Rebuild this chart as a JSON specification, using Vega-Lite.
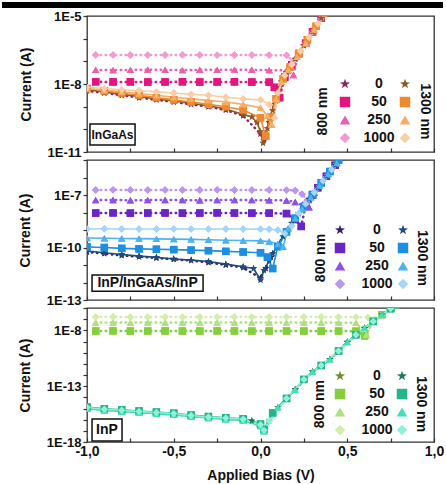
{
"$schema":"https://vega.github.io/schema/vega-lite/v6.json",
"padding":{"left":0,"top":0,"right":2,"bottom":2},
"background":"white",
"spacing":-7,
"config":{
 "view":{"stroke":"#333","strokeWidth":1.3},
 "axis":{"domain":false,"grid":false,"labelFont":"Liberation Sans","labelFontWeight":"bold","labelFontSize":13,"labelColor":"#111","titleFont":"Liberation Sans","titleFontWeight":"bold","titleFontSize":14,"titleColor":"#111","tickColor":"#333","tickWidth":1.2,"labelFlush":false,"labelOverlap":false},
 "legend":{"labelFont":"Liberation Sans","labelFontWeight":"bold","labelFontSize":14,"labelColor":"#111","symbolSize":110,"padding":0,"rowPadding":4,"symbolStrokeWidth":0},
 "text":{"font":"Liberation Sans","fontWeight":"bold","color":"#111"}
},
"datasets":{"iv":[
{"p":1,"w":1300,"l":"0","v":-1,"c":5.6e-9},{"p":1,"w":1300,"l":"0","v":-0.9,"c":4.5e-9},{"p":1,"w":1300,"l":"0","v":-0.8,"c":3.5e-9},{"p":1,"w":1300,"l":"0","v":-0.7,"c":2.8e-9},{"p":1,"w":1300,"l":"0","v":-0.6,"c":2.2e-9},{"p":1,"w":1300,"l":"0","v":-0.5,"c":1.8e-9},{"p":1,"w":1300,"l":"0","v":-0.4,"c":1.4e-9},{"p":1,"w":1300,"l":"0","v":-0.3,"c":1.1e-9},{"p":1,"w":1300,"l":"0","v":-0.2,"c":7.9e-10},{"p":1,"w":1300,"l":"0","v":-0.1,"c":4.5e-10},{"p":1,"w":1300,"l":"0","v":-0.05,"c":3.5e-10},{"p":1,"w":1300,"l":"0","v":-0.02,"c":2e-10},{"p":1,"w":1300,"l":"0","v":0,"c":7.9e-11},{"p":1,"w":1300,"l":"0","v":0.015,"c":2.5e-11},{"p":1,"w":1300,"l":"0","v":0.04,"c":1.1e-10},{"p":1,"w":1300,"l":"0","v":0.07,"c":6.8e-10},{"p":1,"w":1300,"l":"0","v":0.1,"c":4.2e-9},{"p":1,"w":1300,"l":"0","v":0.12,"c":1.26e-8},{"p":1,"w":1300,"l":"0","v":0.15,"c":3.2e-8},{"p":1,"w":1300,"l":"0","v":0.2,"c":1.26e-7},{"p":1,"w":1300,"l":"0","v":0.25,"c":5e-7},{"p":1,"w":1300,"l":"0","v":0.3,"c":2e-6},{"p":1,"w":1300,"l":"0","v":0.35,"c":7.9e-6},{"p":1,"w":1300,"l":"0","v":0.37,"c":1.38e-5},
{"p":1,"w":1300,"l":"50","v":-1,"c":6.3e-9},{"p":1,"w":1300,"l":"50","v":-0.9,"c":5e-9},{"p":1,"w":1300,"l":"50","v":-0.8,"c":4e-9},{"p":1,"w":1300,"l":"50","v":-0.7,"c":3.2e-9},{"p":1,"w":1300,"l":"50","v":-0.6,"c":2.5e-9},{"p":1,"w":1300,"l":"50","v":-0.5,"c":2e-9},{"p":1,"w":1300,"l":"50","v":-0.4,"c":1.6e-9},{"p":1,"w":1300,"l":"50","v":-0.3,"c":1.26e-9},{"p":1,"w":1300,"l":"50","v":-0.2,"c":1e-9},{"p":1,"w":1300,"l":"50","v":-0.1,"c":7.1e-10},{"p":1,"w":1300,"l":"50","v":0,"c":3.2e-10},{"p":1,"w":1300,"l":"50","v":0.03,"c":5e-11},{"p":1,"w":1300,"l":"50","v":0.06,"c":3.5e-10},{"p":1,"w":1300,"l":"50","v":0.09,"c":2.2e-9},{"p":1,"w":1300,"l":"50","v":0.13,"c":1.7e-8},{"p":1,"w":1300,"l":"50","v":0.17,"c":5.6e-8},{"p":1,"w":1300,"l":"50","v":0.22,"c":2.2e-7},{"p":1,"w":1300,"l":"50","v":0.27,"c":8.9e-7},{"p":1,"w":1300,"l":"50","v":0.32,"c":3.5e-6},{"p":1,"w":1300,"l":"50","v":0.37,"c":1.38e-5},
{"p":1,"w":1300,"l":"250","v":-1,"c":6.3e-9},{"p":1,"w":1300,"l":"250","v":-0.9,"c":5.4e-9},{"p":1,"w":1300,"l":"250","v":-0.8,"c":4.5e-9},{"p":1,"w":1300,"l":"250","v":-0.7,"c":3.8e-9},{"p":1,"w":1300,"l":"250","v":-0.6,"c":3.2e-9},{"p":1,"w":1300,"l":"250","v":-0.5,"c":2.6e-9},{"p":1,"w":1300,"l":"250","v":-0.4,"c":2.2e-9},{"p":1,"w":1300,"l":"250","v":-0.3,"c":1.9e-9},{"p":1,"w":1300,"l":"250","v":-0.2,"c":1.6e-9},{"p":1,"w":1300,"l":"250","v":-0.1,"c":1.26e-9},{"p":1,"w":1300,"l":"250","v":0,"c":8.9e-10},{"p":1,"w":1300,"l":"250","v":0.04,"c":4e-10},{"p":1,"w":1300,"l":"250","v":0.065,"c":1.6e-10},{"p":1,"w":1300,"l":"250","v":0.09,"c":2.2e-9},{"p":1,"w":1300,"l":"250","v":0.12,"c":1.26e-8},{"p":1,"w":1300,"l":"250","v":0.16,"c":4.2e-8},{"p":1,"w":1300,"l":"250","v":0.21,"c":1.6e-7},{"p":1,"w":1300,"l":"250","v":0.26,"c":6.3e-7},{"p":1,"w":1300,"l":"250","v":0.31,"c":2.5e-6},{"p":1,"w":1300,"l":"250","v":0.37,"c":1.38e-5},
{"p":1,"w":1300,"l":"1000","v":-1,"c":7.1e-9},{"p":1,"w":1300,"l":"1000","v":-0.9,"c":6.3e-9},{"p":1,"w":1300,"l":"1000","v":-0.8,"c":5.6e-9},{"p":1,"w":1300,"l":"1000","v":-0.7,"c":5e-9},{"p":1,"w":1300,"l":"1000","v":-0.6,"c":4.5e-9},{"p":1,"w":1300,"l":"1000","v":-0.5,"c":4e-9},{"p":1,"w":1300,"l":"1000","v":-0.4,"c":3.5e-9},{"p":1,"w":1300,"l":"1000","v":-0.3,"c":3.2e-9},{"p":1,"w":1300,"l":"1000","v":-0.2,"c":2.6e-9},{"p":1,"w":1300,"l":"1000","v":-0.1,"c":2.2e-9},{"p":1,"w":1300,"l":"1000","v":0,"c":2e-9},{"p":1,"w":1300,"l":"1000","v":0.05,"c":1.26e-9},{"p":1,"w":1300,"l":"1000","v":0.08,"c":3.2e-10},{"p":1,"w":1300,"l":"1000","v":0.1,"c":4e-9},{"p":1,"w":1300,"l":"1000","v":0.14,"c":2.4e-8},{"p":1,"w":1300,"l":"1000","v":0.18,"c":7.1e-8},{"p":1,"w":1300,"l":"1000","v":0.23,"c":2.8e-7},{"p":1,"w":1300,"l":"1000","v":0.28,"c":1.12e-6},{"p":1,"w":1300,"l":"1000","v":0.33,"c":4.5e-6},{"p":1,"w":1300,"l":"1000","v":0.37,"c":1.38e-5},
{"p":1,"w":800,"l":"0","v":-1,"c":5e-9},{"p":1,"w":800,"l":"0","v":-0.9,"c":4e-9},{"p":1,"w":800,"l":"0","v":-0.8,"c":3.2e-9},{"p":1,"w":800,"l":"0","v":-0.7,"c":2.5e-9},{"p":1,"w":800,"l":"0","v":-0.6,"c":2e-9},{"p":1,"w":800,"l":"0","v":-0.5,"c":1.6e-9},{"p":1,"w":800,"l":"0","v":-0.4,"c":1.26e-9},{"p":1,"w":800,"l":"0","v":-0.3,"c":1e-9},{"p":1,"w":800,"l":"0","v":-0.2,"c":7.1e-10},{"p":1,"w":800,"l":"0","v":-0.1,"c":4e-10},{"p":1,"w":800,"l":"0","v":0,"c":6.3e-11},{"p":1,"w":800,"l":"0","v":0.02,"c":3.2e-11},{"p":1,"w":800,"l":"0","v":0.05,"c":2e-10},{"p":1,"w":800,"l":"0","v":0.08,"c":1.26e-9},{"p":1,"w":800,"l":"0","v":0.11,"c":7.1e-9},{"p":1,"w":800,"l":"0","v":0.15,"c":3.2e-8},{"p":1,"w":800,"l":"0","v":0.2,"c":1.26e-7},{"p":1,"w":800,"l":"0","v":0.25,"c":5e-7},{"p":1,"w":800,"l":"0","v":0.3,"c":2e-6},{"p":1,"w":800,"l":"0","v":0.35,"c":7.9e-6},{"p":1,"w":800,"l":"0","v":0.37,"c":1.38e-5},
{"p":1,"w":800,"l":"50","v":-0.95,"c":1.25e-8},{"p":1,"w":800,"l":"50","v":-0.85,"c":1.23e-8},{"p":1,"w":800,"l":"50","v":-0.75,"c":1.24e-8},{"p":1,"w":800,"l":"50","v":-0.65,"c":1.22e-8},{"p":1,"w":800,"l":"50","v":-0.55,"c":1.23e-8},{"p":1,"w":800,"l":"50","v":-0.45,"c":1.25e-8},{"p":1,"w":800,"l":"50","v":-0.35,"c":1.22e-8},{"p":1,"w":800,"l":"50","v":-0.25,"c":1.23e-8},{"p":1,"w":800,"l":"50","v":-0.15,"c":1.24e-8},{"p":1,"w":800,"l":"50","v":-0.05,"c":1.22e-8},{"p":1,"w":800,"l":"50","v":0.05,"c":1.2e-8},{"p":1,"w":800,"l":"50","v":0.08,"c":7.1e-9},{"p":1,"w":800,"l":"50","v":0.11,"c":2.5e-9},{"p":1,"w":800,"l":"50","v":0.14,"c":2e-8},{"p":1,"w":800,"l":"50","v":0.18,"c":7.1e-8},{"p":1,"w":800,"l":"50","v":0.22,"c":2.2e-7},{"p":1,"w":800,"l":"50","v":0.26,"c":6.3e-7},{"p":1,"w":800,"l":"50","v":0.3,"c":2e-6},{"p":1,"w":800,"l":"50","v":0.35,"c":7.9e-6},{"p":1,"w":800,"l":"50","v":0.37,"c":1.38e-5},
{"p":1,"w":800,"l":"250","v":-0.95,"c":4.2e-8},{"p":1,"w":800,"l":"250","v":-0.85,"c":4.1e-8},{"p":1,"w":800,"l":"250","v":-0.75,"c":4.2e-8},{"p":1,"w":800,"l":"250","v":-0.65,"c":4.3e-8},{"p":1,"w":800,"l":"250","v":-0.55,"c":4.2e-8},{"p":1,"w":800,"l":"250","v":-0.45,"c":4.1e-8},{"p":1,"w":800,"l":"250","v":-0.35,"c":4.2e-8},{"p":1,"w":800,"l":"250","v":-0.25,"c":4.2e-8},{"p":1,"w":800,"l":"250","v":-0.15,"c":4.3e-8},{"p":1,"w":800,"l":"250","v":-0.05,"c":4.2e-8},{"p":1,"w":800,"l":"250","v":0.05,"c":4.1e-8},{"p":1,"w":800,"l":"250","v":0.15,"c":4e-8},{"p":1,"w":800,"l":"250","v":0.19,"c":2.5e-8},{"p":1,"w":800,"l":"250","v":0.22,"c":2.2e-7},{"p":1,"w":800,"l":"250","v":0.26,"c":6.3e-7},{"p":1,"w":800,"l":"250","v":0.3,"c":2e-6},{"p":1,"w":800,"l":"250","v":0.35,"c":7.9e-6},{"p":1,"w":800,"l":"250","v":0.37,"c":1.38e-5},
{"p":1,"w":800,"l":"1000","v":-0.95,"c":1.9e-7},{"p":1,"w":800,"l":"1000","v":-0.85,"c":1.92e-7},{"p":1,"w":800,"l":"1000","v":-0.75,"c":1.9e-7},{"p":1,"w":800,"l":"1000","v":-0.65,"c":1.88e-7},{"p":1,"w":800,"l":"1000","v":-0.55,"c":1.9e-7},{"p":1,"w":800,"l":"1000","v":-0.45,"c":1.92e-7},{"p":1,"w":800,"l":"1000","v":-0.35,"c":1.9e-7},{"p":1,"w":800,"l":"1000","v":-0.25,"c":1.88e-7},{"p":1,"w":800,"l":"1000","v":-0.15,"c":1.9e-7},{"p":1,"w":800,"l":"1000","v":-0.05,"c":1.9e-7},{"p":1,"w":800,"l":"1000","v":0.05,"c":1.88e-7},{"p":1,"w":800,"l":"1000","v":0.15,"c":1.85e-7},{"p":1,"w":800,"l":"1000","v":0.19,"c":1e-7},{"p":1,"w":800,"l":"1000","v":0.23,"c":2.8e-7},{"p":1,"w":800,"l":"1000","v":0.26,"c":6.3e-7},{"p":1,"w":800,"l":"1000","v":0.3,"c":2e-6},{"p":1,"w":800,"l":"1000","v":0.35,"c":7.9e-6},{"p":1,"w":800,"l":"1000","v":0.37,"c":1.38e-5},
{"p":2,"w":1300,"l":"0","v":-1,"c":6.3e-11},{"p":2,"w":1300,"l":"0","v":-0.9,"c":5e-11},{"p":2,"w":1300,"l":"0","v":-0.8,"c":4e-11},{"p":2,"w":1300,"l":"0","v":-0.7,"c":3.2e-11},{"p":2,"w":1300,"l":"0","v":-0.6,"c":2.8e-11},{"p":2,"w":1300,"l":"0","v":-0.5,"c":2.2e-11},{"p":2,"w":1300,"l":"0","v":-0.4,"c":1.9e-11},{"p":2,"w":1300,"l":"0","v":-0.3,"c":1.6e-11},{"p":2,"w":1300,"l":"0","v":-0.2,"c":1.12e-11},{"p":2,"w":1300,"l":"0","v":-0.1,"c":7.9e-12},{"p":2,"w":1300,"l":"0","v":-0.04,"c":6.3e-12},{"p":2,"w":1300,"l":"0","v":0,"c":1.4e-12},{"p":2,"w":1300,"l":"0","v":0.02,"c":5e-12},{"p":2,"w":1300,"l":"0","v":0.05,"c":1.8e-11},{"p":2,"w":1300,"l":"0","v":0.07,"c":4.5e-11},{"p":2,"w":1300,"l":"0","v":0.1,"c":1.4e-10},{"p":2,"w":1300,"l":"0","v":0.13,"c":4.2e-10},{"p":2,"w":1300,"l":"0","v":0.18,"c":2.5e-9},{"p":2,"w":1300,"l":"0","v":0.22,"c":8.7e-9},{"p":2,"w":1300,"l":"0","v":0.28,"c":5.8e-8},{"p":2,"w":1300,"l":"0","v":0.33,"c":2.6e-7},{"p":2,"w":1300,"l":"0","v":0.38,"c":1.17e-6},{"p":2,"w":1300,"l":"0","v":0.43,"c":5e-6},{"p":2,"w":1300,"l":"0","v":0.47,"c":1.78e-5},
{"p":2,"w":1300,"l":"50","v":-1,"c":1.07e-10},{"p":2,"w":1300,"l":"50","v":-0.9,"c":1e-10},{"p":2,"w":1300,"l":"50","v":-0.8,"c":8.9e-11},{"p":2,"w":1300,"l":"50","v":-0.7,"c":8.3e-11},{"p":2,"w":1300,"l":"50","v":-0.6,"c":7.9e-11},{"p":2,"w":1300,"l":"50","v":-0.5,"c":7.6e-11},{"p":2,"w":1300,"l":"50","v":-0.4,"c":7.1e-11},{"p":2,"w":1300,"l":"50","v":-0.3,"c":6.6e-11},{"p":2,"w":1300,"l":"50","v":-0.2,"c":6e-11},{"p":2,"w":1300,"l":"50","v":-0.1,"c":5.5e-11},{"p":2,"w":1300,"l":"50","v":0,"c":5e-11},{"p":2,"w":1300,"l":"50","v":0.04,"c":2.8e-11},{"p":2,"w":1300,"l":"50","v":0.07,"c":6.3e-12},{"p":2,"w":1300,"l":"50","v":0.1,"c":1.12e-10},{"p":2,"w":1300,"l":"50","v":0.15,"c":7.9e-10},{"p":2,"w":1300,"l":"50","v":0.2,"c":4.7e-9},{"p":2,"w":1300,"l":"50","v":0.25,"c":2.2e-8},{"p":2,"w":1300,"l":"50","v":0.3,"c":1.07e-7},{"p":2,"w":1300,"l":"50","v":0.35,"c":5e-7},{"p":2,"w":1300,"l":"50","v":0.4,"c":2.2e-6},{"p":2,"w":1300,"l":"50","v":0.45,"c":1e-5},{"p":2,"w":1300,"l":"50","v":0.47,"c":1.78e-5},
{"p":2,"w":1300,"l":"250","v":-1,"c":3.5e-10},{"p":2,"w":1300,"l":"250","v":-0.9,"c":3.4e-10},{"p":2,"w":1300,"l":"250","v":-0.8,"c":3.3e-10},{"p":2,"w":1300,"l":"250","v":-0.7,"c":3.2e-10},{"p":2,"w":1300,"l":"250","v":-0.6,"c":3.1e-10},{"p":2,"w":1300,"l":"250","v":-0.5,"c":3e-10},{"p":2,"w":1300,"l":"250","v":-0.4,"c":2.9e-10},{"p":2,"w":1300,"l":"250","v":-0.3,"c":2.8e-10},{"p":2,"w":1300,"l":"250","v":-0.2,"c":2.6e-10},{"p":2,"w":1300,"l":"250","v":-0.1,"c":2.5e-10},{"p":2,"w":1300,"l":"250","v":0,"c":2.4e-10},{"p":2,"w":1300,"l":"250","v":0.05,"c":2.2e-10},{"p":2,"w":1300,"l":"250","v":0.1,"c":1.6e-10},{"p":2,"w":1300,"l":"250","v":0.13,"c":1.1e-10},{"p":2,"w":1300,"l":"250","v":0.16,"c":1.26e-9},{"p":2,"w":1300,"l":"250","v":0.2,"c":4.7e-9},{"p":2,"w":1300,"l":"250","v":0.24,"c":1.6e-8},{"p":2,"w":1300,"l":"250","v":0.29,"c":7.4e-8},{"p":2,"w":1300,"l":"250","v":0.34,"c":3.5e-7},{"p":2,"w":1300,"l":"250","v":0.39,"c":1.6e-6},{"p":2,"w":1300,"l":"250","v":0.44,"c":6.8e-6},{"p":2,"w":1300,"l":"250","v":0.47,"c":1.78e-5},
{"p":2,"w":1300,"l":"1000","v":-1,"c":1.15e-9},{"p":2,"w":1300,"l":"1000","v":-0.9,"c":1.17e-9},{"p":2,"w":1300,"l":"1000","v":-0.8,"c":1.15e-9},{"p":2,"w":1300,"l":"1000","v":-0.7,"c":1.14e-9},{"p":2,"w":1300,"l":"1000","v":-0.6,"c":1.15e-9},{"p":2,"w":1300,"l":"1000","v":-0.5,"c":1.16e-9},{"p":2,"w":1300,"l":"1000","v":-0.4,"c":1.14e-9},{"p":2,"w":1300,"l":"1000","v":-0.3,"c":1.15e-9},{"p":2,"w":1300,"l":"1000","v":-0.2,"c":1.13e-9},{"p":2,"w":1300,"l":"1000","v":-0.1,"c":1.14e-9},{"p":2,"w":1300,"l":"1000","v":0,"c":1.12e-9},{"p":2,"w":1300,"l":"1000","v":0.05,"c":1.1e-9},{"p":2,"w":1300,"l":"1000","v":0.1,"c":1e-9},{"p":2,"w":1300,"l":"1000","v":0.14,"c":6.3e-10},{"p":2,"w":1300,"l":"1000","v":0.18,"c":1.7e-9},{"p":2,"w":1300,"l":"1000","v":0.22,"c":8.7e-9},{"p":2,"w":1300,"l":"1000","v":0.26,"c":3.1e-8},{"p":2,"w":1300,"l":"1000","v":0.31,"c":1.4e-7},{"p":2,"w":1300,"l":"1000","v":0.36,"c":6.3e-7},{"p":2,"w":1300,"l":"1000","v":0.41,"c":2.8e-6},{"p":2,"w":1300,"l":"1000","v":0.47,"c":1.78e-5},
{"p":2,"w":800,"l":"0","v":-1,"c":5.6e-11},{"p":2,"w":800,"l":"0","v":-0.9,"c":4.5e-11},{"p":2,"w":800,"l":"0","v":-0.8,"c":3.5e-11},{"p":2,"w":800,"l":"0","v":-0.7,"c":3e-11},{"p":2,"w":800,"l":"0","v":-0.6,"c":2.5e-11},{"p":2,"w":800,"l":"0","v":-0.5,"c":2.1e-11},{"p":2,"w":800,"l":"0","v":-0.4,"c":1.8e-11},{"p":2,"w":800,"l":"0","v":-0.3,"c":1.4e-11},{"p":2,"w":800,"l":"0","v":-0.2,"c":1e-11},{"p":2,"w":800,"l":"0","v":-0.1,"c":7.1e-12},{"p":2,"w":800,"l":"0","v":0,"c":1.8e-12},{"p":2,"w":800,"l":"0","v":0.03,"c":6.3e-12},{"p":2,"w":800,"l":"0","v":0.06,"c":2.8e-11},{"p":2,"w":800,"l":"0","v":0.1,"c":1.4e-10},{"p":2,"w":800,"l":"0","v":0.15,"c":8.5e-10},{"p":2,"w":800,"l":"0","v":0.2,"c":4.7e-9},{"p":2,"w":800,"l":"0","v":0.25,"c":2.2e-8},{"p":2,"w":800,"l":"0","v":0.3,"c":1.07e-7},{"p":2,"w":800,"l":"0","v":0.35,"c":5e-7},{"p":2,"w":800,"l":"0","v":0.4,"c":2.2e-6},{"p":2,"w":800,"l":"0","v":0.45,"c":1e-5},{"p":2,"w":800,"l":"0","v":0.47,"c":1.78e-5},
{"p":2,"w":800,"l":"50","v":-0.95,"c":9.3e-9},{"p":2,"w":800,"l":"50","v":-0.85,"c":9.5e-9},{"p":2,"w":800,"l":"50","v":-0.75,"c":9.2e-9},{"p":2,"w":800,"l":"50","v":-0.65,"c":9.3e-9},{"p":2,"w":800,"l":"50","v":-0.55,"c":9.4e-9},{"p":2,"w":800,"l":"50","v":-0.45,"c":9.2e-9},{"p":2,"w":800,"l":"50","v":-0.35,"c":9.3e-9},{"p":2,"w":800,"l":"50","v":-0.25,"c":9.5e-9},{"p":2,"w":800,"l":"50","v":-0.15,"c":9.3e-9},{"p":2,"w":800,"l":"50","v":-0.05,"c":9.2e-9},{"p":2,"w":800,"l":"50","v":0.05,"c":9.2e-9},{"p":2,"w":800,"l":"50","v":0.15,"c":8.7e-9},{"p":2,"w":800,"l":"50","v":0.2,"c":4e-9},{"p":2,"w":800,"l":"50","v":0.235,"c":1.6e-9},{"p":2,"w":800,"l":"50","v":0.26,"c":2.5e-8},{"p":2,"w":800,"l":"50","v":0.3,"c":1e-7},{"p":2,"w":800,"l":"50","v":0.33,"c":2.6e-7},{"p":2,"w":800,"l":"50","v":0.38,"c":1.17e-6},{"p":2,"w":800,"l":"50","v":0.43,"c":5e-6},{"p":2,"w":800,"l":"50","v":0.47,"c":1.78e-5},
{"p":2,"w":800,"l":"250","v":-0.95,"c":5.1e-8},{"p":2,"w":800,"l":"250","v":-0.85,"c":5.2e-8},{"p":2,"w":800,"l":"250","v":-0.75,"c":5e-8},{"p":2,"w":800,"l":"250","v":-0.65,"c":5.1e-8},{"p":2,"w":800,"l":"250","v":-0.55,"c":5.2e-8},{"p":2,"w":800,"l":"250","v":-0.45,"c":5.1e-8},{"p":2,"w":800,"l":"250","v":-0.35,"c":5e-8},{"p":2,"w":800,"l":"250","v":-0.25,"c":5.1e-8},{"p":2,"w":800,"l":"250","v":-0.15,"c":5.2e-8},{"p":2,"w":800,"l":"250","v":-0.05,"c":5.1e-8},{"p":2,"w":800,"l":"250","v":0.05,"c":5e-8},{"p":2,"w":800,"l":"250","v":0.15,"c":4.9e-8},{"p":2,"w":800,"l":"250","v":0.2,"c":4e-8},{"p":2,"w":800,"l":"250","v":0.245,"c":2.5e-8},{"p":2,"w":800,"l":"250","v":0.28,"c":2e-8},{"p":2,"w":800,"l":"250","v":0.31,"c":1.4e-7},{"p":2,"w":800,"l":"250","v":0.35,"c":5e-7},{"p":2,"w":800,"l":"250","v":0.4,"c":2.2e-6},{"p":2,"w":800,"l":"250","v":0.45,"c":1e-5},{"p":2,"w":800,"l":"250","v":0.47,"c":1.78e-5},
{"p":2,"w":800,"l":"1000","v":-0.95,"c":1.95e-7},{"p":2,"w":800,"l":"1000","v":-0.85,"c":1.97e-7},{"p":2,"w":800,"l":"1000","v":-0.75,"c":1.94e-7},{"p":2,"w":800,"l":"1000","v":-0.65,"c":1.95e-7},{"p":2,"w":800,"l":"1000","v":-0.55,"c":1.96e-7},{"p":2,"w":800,"l":"1000","v":-0.45,"c":1.94e-7},{"p":2,"w":800,"l":"1000","v":-0.35,"c":1.95e-7},{"p":2,"w":800,"l":"1000","v":-0.25,"c":1.97e-7},{"p":2,"w":800,"l":"1000","v":-0.15,"c":1.95e-7},{"p":2,"w":800,"l":"1000","v":-0.05,"c":1.94e-7},{"p":2,"w":800,"l":"1000","v":0.05,"c":1.93e-7},{"p":2,"w":800,"l":"1000","v":0.15,"c":1.9e-7},{"p":2,"w":800,"l":"1000","v":0.2,"c":1.8e-7},{"p":2,"w":800,"l":"1000","v":0.24,"c":1.12e-7},{"p":2,"w":800,"l":"1000","v":0.27,"c":5e-8},{"p":2,"w":800,"l":"1000","v":0.3,"c":1.12e-7},{"p":2,"w":800,"l":"1000","v":0.33,"c":2.6e-7},{"p":2,"w":800,"l":"1000","v":0.38,"c":1.17e-6},{"p":2,"w":800,"l":"1000","v":0.43,"c":5e-6},{"p":2,"w":800,"l":"1000","v":0.47,"c":1.78e-5},
{"p":3,"w":1300,"l":"0","v":-1,"c":1.12e-15},{"p":3,"w":1300,"l":"0","v":-0.9,"c":7.9e-16},{"p":3,"w":1300,"l":"0","v":-0.8,"c":6.3e-16},{"p":3,"w":1300,"l":"0","v":-0.7,"c":5e-16},{"p":3,"w":1300,"l":"0","v":-0.6,"c":4e-16},{"p":3,"w":1300,"l":"0","v":-0.5,"c":3.2e-16},{"p":3,"w":1300,"l":"0","v":-0.4,"c":2.2e-16},{"p":3,"w":1300,"l":"0","v":-0.3,"c":1.6e-16},{"p":3,"w":1300,"l":"0","v":-0.2,"c":1.26e-16},{"p":3,"w":1300,"l":"0","v":-0.1,"c":1e-16},{"p":3,"w":1300,"l":"0","v":-0.05,"c":7.9e-17},{"p":3,"w":1300,"l":"0","v":0,"c":3.2e-17},{"p":3,"w":1300,"l":"0","v":0.02,"c":1e-17},{"p":3,"w":1300,"l":"0","v":0.05,"c":7.9e-17},{"p":3,"w":1300,"l":"0","v":0.07,"c":4e-16},{"p":3,"w":1300,"l":"0","v":0.1,"c":1.26e-15},{"p":3,"w":1300,"l":"0","v":0.15,"c":7.9e-15},{"p":3,"w":1300,"l":"0","v":0.2,"c":5e-14},{"p":3,"w":1300,"l":"0","v":0.25,"c":4e-13},{"p":3,"w":1300,"l":"0","v":0.3,"c":2e-12},{"p":3,"w":1300,"l":"0","v":0.35,"c":7.1e-12},{"p":3,"w":1300,"l":"0","v":0.4,"c":2.5e-11},{"p":3,"w":1300,"l":"0","v":0.45,"c":1.4e-10},{"p":3,"w":1300,"l":"0","v":0.5,"c":8.9e-10},{"p":3,"w":1300,"l":"0","v":0.55,"c":4e-9},{"p":3,"w":1300,"l":"0","v":0.6,"c":1.6e-8},{"p":3,"w":1300,"l":"0","v":0.65,"c":6.3e-8},{"p":3,"w":1300,"l":"0","v":0.7,"c":2.5e-7},{"p":3,"w":1300,"l":"0","v":0.75,"c":8.9e-7},{"p":3,"w":1300,"l":"0","v":0.78,"c":2e-6},
{"p":3,"w":1300,"l":"50","v":-1,"c":1.35e-15},{"p":3,"w":1300,"l":"50","v":-0.9,"c":9.5e-16},{"p":3,"w":1300,"l":"50","v":-0.8,"c":7.6e-16},{"p":3,"w":1300,"l":"50","v":-0.7,"c":6e-16},{"p":3,"w":1300,"l":"50","v":-0.6,"c":4.8e-16},{"p":3,"w":1300,"l":"50","v":-0.5,"c":3.8e-16},{"p":3,"w":1300,"l":"50","v":-0.4,"c":2.6e-16},{"p":3,"w":1300,"l":"50","v":-0.3,"c":1.9e-16},{"p":3,"w":1300,"l":"50","v":-0.2,"c":1.5e-16},{"p":3,"w":1300,"l":"50","v":-0.1,"c":1.2e-16},{"p":3,"w":1300,"l":"50","v":0,"c":4e-17},{"p":3,"w":1300,"l":"50","v":0.02,"c":1.3e-17},{"p":3,"w":1300,"l":"50","v":0.07,"c":4e-16},{"p":3,"w":1300,"l":"50","v":0.15,"c":7.9e-15},{"p":3,"w":1300,"l":"50","v":0.25,"c":4e-13},{"p":3,"w":1300,"l":"50","v":0.35,"c":7.1e-12},{"p":3,"w":1300,"l":"50","v":0.45,"c":1.4e-10},{"p":3,"w":1300,"l":"50","v":0.55,"c":4e-9},{"p":3,"w":1300,"l":"50","v":0.65,"c":6.3e-8},{"p":3,"w":1300,"l":"50","v":0.75,"c":8.9e-7},{"p":3,"w":1300,"l":"50","v":0.78,"c":2e-6},
{"p":3,"w":1300,"l":"250","v":-1,"c":9.5e-16},{"p":3,"w":1300,"l":"250","v":-0.9,"c":6.7e-16},{"p":3,"w":1300,"l":"250","v":-0.8,"c":5.4e-16},{"p":3,"w":1300,"l":"250","v":-0.7,"c":4.3e-16},{"p":3,"w":1300,"l":"250","v":-0.6,"c":3.4e-16},{"p":3,"w":1300,"l":"250","v":-0.5,"c":2.7e-16},{"p":3,"w":1300,"l":"250","v":-0.4,"c":1.9e-16},{"p":3,"w":1300,"l":"250","v":-0.3,"c":1.4e-16},{"p":3,"w":1300,"l":"250","v":-0.2,"c":1.07e-16},{"p":3,"w":1300,"l":"250","v":-0.1,"c":8.5e-17},{"p":3,"w":1300,"l":"250","v":0,"c":2.7e-17},{"p":3,"w":1300,"l":"250","v":0.02,"c":9e-18},{"p":3,"w":1300,"l":"250","v":0.1,"c":1.26e-15},{"p":3,"w":1300,"l":"250","v":0.2,"c":5e-14},{"p":3,"w":1300,"l":"250","v":0.3,"c":2e-12},{"p":3,"w":1300,"l":"250","v":0.4,"c":2.5e-11},{"p":3,"w":1300,"l":"250","v":0.5,"c":8.9e-10},{"p":3,"w":1300,"l":"250","v":0.6,"c":1.6e-8},{"p":3,"w":1300,"l":"250","v":0.7,"c":2.5e-7},{"p":3,"w":1300,"l":"250","v":0.78,"c":2e-6},
{"p":3,"w":1300,"l":"1000","v":-1,"c":1.23e-15},{"p":3,"w":1300,"l":"1000","v":-0.9,"c":8.7e-16},{"p":3,"w":1300,"l":"1000","v":-0.8,"c":6.9e-16},{"p":3,"w":1300,"l":"1000","v":-0.7,"c":5.5e-16},{"p":3,"w":1300,"l":"1000","v":-0.6,"c":4.4e-16},{"p":3,"w":1300,"l":"1000","v":-0.5,"c":3.5e-16},{"p":3,"w":1300,"l":"1000","v":-0.4,"c":2.4e-16},{"p":3,"w":1300,"l":"1000","v":-0.3,"c":1.76e-16},{"p":3,"w":1300,"l":"1000","v":-0.2,"c":1.4e-16},{"p":3,"w":1300,"l":"1000","v":-0.1,"c":1.1e-16},{"p":3,"w":1300,"l":"1000","v":0,"c":3.5e-17},{"p":3,"w":1300,"l":"1000","v":0.02,"c":1.1e-17},{"p":3,"w":1300,"l":"1000","v":0.05,"c":7.9e-17},{"p":3,"w":1300,"l":"1000","v":0.15,"c":7.9e-15},{"p":3,"w":1300,"l":"1000","v":0.25,"c":4e-13},{"p":3,"w":1300,"l":"1000","v":0.35,"c":7.1e-12},{"p":3,"w":1300,"l":"1000","v":0.45,"c":1.4e-10},{"p":3,"w":1300,"l":"1000","v":0.55,"c":4e-9},{"p":3,"w":1300,"l":"1000","v":0.65,"c":6.3e-8},{"p":3,"w":1300,"l":"1000","v":0.75,"c":8.9e-7},{"p":3,"w":1300,"l":"1000","v":0.78,"c":2e-6},
{"p":3,"w":800,"l":"0","v":-1,"c":1.06e-15},{"p":3,"w":800,"l":"0","v":-0.8,"c":6e-16},{"p":3,"w":800,"l":"0","v":-0.6,"c":3.8e-16},{"p":3,"w":800,"l":"0","v":-0.4,"c":2.1e-16},{"p":3,"w":800,"l":"0","v":-0.2,"c":1.2e-16},{"p":3,"w":800,"l":"0","v":-0.1,"c":9.5e-17},{"p":3,"w":800,"l":"0","v":0,"c":3e-17},{"p":3,"w":800,"l":"0","v":0.02,"c":1e-17},{"p":3,"w":800,"l":"0","v":0.07,"c":4e-16},{"p":3,"w":800,"l":"0","v":0.2,"c":5e-14},{"p":3,"w":800,"l":"0","v":0.3,"c":2e-12},{"p":3,"w":800,"l":"0","v":0.4,"c":2.5e-11},{"p":3,"w":800,"l":"0","v":0.5,"c":8.9e-10},{"p":3,"w":800,"l":"0","v":0.6,"c":1.6e-8},{"p":3,"w":800,"l":"0","v":0.7,"c":2.5e-7},{"p":3,"w":800,"l":"0","v":0.78,"c":2e-6},
{"p":3,"w":800,"l":"50","v":-0.95,"c":8.7e-9},{"p":3,"w":800,"l":"50","v":-0.85,"c":8.9e-9},{"p":3,"w":800,"l":"50","v":-0.75,"c":8.6e-9},{"p":3,"w":800,"l":"50","v":-0.65,"c":8.7e-9},{"p":3,"w":800,"l":"50","v":-0.55,"c":8.8e-9},{"p":3,"w":800,"l":"50","v":-0.45,"c":8.6e-9},{"p":3,"w":800,"l":"50","v":-0.35,"c":8.7e-9},{"p":3,"w":800,"l":"50","v":-0.25,"c":8.9e-9},{"p":3,"w":800,"l":"50","v":-0.15,"c":8.7e-9},{"p":3,"w":800,"l":"50","v":-0.05,"c":8.6e-9},{"p":3,"w":800,"l":"50","v":0.05,"c":8.7e-9},{"p":3,"w":800,"l":"50","v":0.15,"c":8.8e-9},{"p":3,"w":800,"l":"50","v":0.25,"c":8.6e-9},{"p":3,"w":800,"l":"50","v":0.35,"c":8.7e-9},{"p":3,"w":800,"l":"50","v":0.45,"c":8.6e-9},{"p":3,"w":800,"l":"50","v":0.55,"c":8.4e-9},{"p":3,"w":800,"l":"50","v":0.6,"c":3.2e-9},{"p":3,"w":800,"l":"50","v":0.65,"c":6.3e-8},{"p":3,"w":800,"l":"50","v":0.7,"c":2.5e-7},{"p":3,"w":800,"l":"50","v":0.75,"c":8.9e-7},{"p":3,"w":800,"l":"50","v":0.78,"c":2e-6},
{"p":3,"w":800,"l":"250","v":-0.95,"c":5e-8},{"p":3,"w":800,"l":"250","v":-0.85,"c":5.1e-8},{"p":3,"w":800,"l":"250","v":-0.75,"c":4.9e-8},{"p":3,"w":800,"l":"250","v":-0.65,"c":5e-8},{"p":3,"w":800,"l":"250","v":-0.55,"c":5.1e-8},{"p":3,"w":800,"l":"250","v":-0.45,"c":5e-8},{"p":3,"w":800,"l":"250","v":-0.35,"c":4.9e-8},{"p":3,"w":800,"l":"250","v":-0.25,"c":5e-8},{"p":3,"w":800,"l":"250","v":-0.15,"c":5.1e-8},{"p":3,"w":800,"l":"250","v":-0.05,"c":5e-8},{"p":3,"w":800,"l":"250","v":0.05,"c":4.9e-8},{"p":3,"w":800,"l":"250","v":0.15,"c":5e-8},{"p":3,"w":800,"l":"250","v":0.25,"c":5.1e-8},{"p":3,"w":800,"l":"250","v":0.35,"c":5e-8},{"p":3,"w":800,"l":"250","v":0.45,"c":4.9e-8},{"p":3,"w":800,"l":"250","v":0.55,"c":4.8e-8},{"p":3,"w":800,"l":"250","v":0.61,"c":4e-9},{"p":3,"w":800,"l":"250","v":0.65,"c":6.3e-8},{"p":3,"w":800,"l":"250","v":0.7,"c":2.5e-7},{"p":3,"w":800,"l":"250","v":0.75,"c":8.9e-7},{"p":3,"w":800,"l":"250","v":0.78,"c":2e-6},
{"p":3,"w":800,"l":"1000","v":-0.95,"c":1.6e-7},{"p":3,"w":800,"l":"1000","v":-0.85,"c":1.62e-7},{"p":3,"w":800,"l":"1000","v":-0.75,"c":1.58e-7},{"p":3,"w":800,"l":"1000","v":-0.65,"c":1.6e-7},{"p":3,"w":800,"l":"1000","v":-0.55,"c":1.61e-7},{"p":3,"w":800,"l":"1000","v":-0.45,"c":1.6e-7},{"p":3,"w":800,"l":"1000","v":-0.35,"c":1.58e-7},{"p":3,"w":800,"l":"1000","v":-0.25,"c":1.6e-7},{"p":3,"w":800,"l":"1000","v":-0.15,"c":1.62e-7},{"p":3,"w":800,"l":"1000","v":-0.05,"c":1.6e-7},{"p":3,"w":800,"l":"1000","v":0.05,"c":1.59e-7},{"p":3,"w":800,"l":"1000","v":0.15,"c":1.6e-7},{"p":3,"w":800,"l":"1000","v":0.25,"c":1.61e-7},{"p":3,"w":800,"l":"1000","v":0.35,"c":1.6e-7},{"p":3,"w":800,"l":"1000","v":0.45,"c":1.58e-7},{"p":3,"w":800,"l":"1000","v":0.55,"c":1.57e-7},{"p":3,"w":800,"l":"1000","v":0.62,"c":1.4e-7},{"p":3,"w":800,"l":"1000","v":0.66,"c":1e-7},{"p":3,"w":800,"l":"1000","v":0.7,"c":2.5e-7},{"p":3,"w":800,"l":"1000","v":0.75,"c":8.9e-7},{"p":3,"w":800,"l":"1000","v":0.78,"c":2e-6}
]},
"vconcat":[
{
 "width":347,"height":136,
 "layer":[
  {"data":{"name":"iv"},"transform":[{"filter":"datum.p == 1 && datum.w == 800"}],
   "encoding":{
    "x":{"field":"v","type":"quantitative","scale":{"domain":[-1,1],"nice":false,"zero":false},"axis":{"values":[-1,-0.75,-0.5,-0.25,0,0.25,0.5,0.75,1],"labels":false,"title":null,"tickSize":-4}},
    "y":{"field":"c","type":"quantitative","scale":{"type":"log","domain":[1e-11,1e-5],"nice":false},"axis":{"values":[1e-11,1e-10,1e-9,1e-8,1e-7,1e-6,1e-5],"labelExpr":"(round(log(datum.value)/LN10)+11) % 3 == 0 ? '1E' + round(log(datum.value)/LN10) : ''","title":"Current (A)","tickSize":4,"labelPadding":2,"titlePadding":14}},
    "color":{"field":"l","type":"nominal","scale":{"domain":["0","50","250","1000"],"range":["#8E2466","#E3157F","#EC5FAE","#F59AD0"]}},
    "shape":{"field":"l","type":"nominal","scale":{"domain":["0","50","250","1000"],"range":["M0,-1L0.235,-0.324L0.951,-0.309L0.38,0.124L0.588,0.809L0,0.4L-0.588,0.809L-0.38,0.124L-0.951,-0.309L-0.235,-0.324Z","square","triangle-up","diamond"]}}
   },
   "layer":[
    {"mark":{"type":"point","filled":true,"size":55,"opacity":1,"clip":true},
     "encoding":{
      "color":{"field":"l","type":"nominal","scale":{"domain":["0","50","250","1000"],"range":["#8E2466","#E3157F","#EC5FAE","#F59AD0"]},
       "legend":{"orient":"none","legendX":251,"legendY":61,"title":null,"labelAlign":"center","labelOffset":27}}}},
    {"mark":{"type":"line","strokeDash":[0.5,4.5],"strokeCap":"round","strokeWidth":2.5,"clip":true}},
    {"mark":{"type":"point","filled":true,"size":55,"opacity":1,"clip":true}}
   ]
  },
  {"data":{"name":"iv"},"transform":[{"filter":"datum.p == 1 && datum.w == 1300"}],
   "encoding":{
    "x":{"field":"v","type":"quantitative","scale":{"domain":[-1,1],"nice":false,"zero":false}},
    "y":{"field":"c","type":"quantitative","scale":{"type":"log","domain":[1e-11,1e-5],"nice":false}},
    "color":{"field":"l","type":"nominal","scale":{"domain":["0","50","250","1000"],"range":["#8A5A2B","#F0892E","#F5AE68","#F9CDA5"]}},
    "shape":{"field":"l","type":"nominal","scale":{"domain":["0","50","250","1000"],"range":["M0,-1L0.235,-0.324L0.951,-0.309L0.38,0.124L0.588,0.809L0,0.4L-0.588,0.809L-0.38,0.124L-0.951,-0.309L-0.235,-0.324Z","square","triangle-up","diamond"]}}
   },
   "layer":[
    {"mark":{"type":"point","filled":true,"size":55,"opacity":1,"clip":true},
     "encoding":{
      "color":{"field":"l","type":"nominal","scale":{"domain":["0","50","250","1000"],"range":["#8A5A2B","#F0892E","#F5AE68","#F9CDA5"]},
       "legend":{"orient":"none","legendX":311,"legendY":61,"title":null,"labelExpr":"''","labelOffset":0}}}},
    {"mark":{"type":"line","strokeWidth":1.6,"clip":true}},
    {"mark":{"type":"point","filled":true,"size":55,"opacity":1,"clip":true}}
   ]
  },
  {"data":{"values":[{"name":"InGaAs"}]},
   "layer":[
    {"mark":{"type":"rect","fill":"white","stroke":"#111","strokeWidth":1.5},
     "encoding":{"x":{"datum":-0.983,"type":"quantitative","scale":{"domain":[-1,1],"nice":false,"zero":false}},"x2":{"datum":-0.723},
      "y":{"datum":1.74e-10,"type":"quantitative","scale":{"type":"log","domain":[1e-11,1e-5],"nice":false}},"y2":{"datum":2.04e-11}}},
    {"mark":{"type":"text","fontSize":12,"baseline":"middle","align":"center"},
     "encoding":{"x":{"datum":-0.853,"type":"quantitative","scale":{"domain":[-1,1],"nice":false,"zero":false}},
      "y":{"datum":5.9e-11,"type":"quantitative","scale":{"type":"log","domain":[1e-11,1e-5],"nice":false}},"text":{"field":"name"}}}
   ]
  },
  {"data":{"values":[{"name":"800 nm"}]},
   "mark":{"type":"text","fontSize":14,"angle":270,"baseline":"middle","align":"center"},
   "encoding":{"x":{"datum":0.36,"type":"quantitative","scale":{"domain":[-1,1],"nice":false,"zero":false}},
    "y":{"datum":6.2e-10,"type":"quantitative","scale":{"type":"log","domain":[1e-11,1e-5],"nice":false}},"text":{"field":"name"}}},
  {"data":{"values":[{"name":"1300 nm"}]},
   "mark":{"type":"text","fontSize":14,"angle":90,"baseline":"middle","align":"center"},
   "encoding":{"x":{"datum":0.948,"type":"quantitative","scale":{"domain":[-1,1],"nice":false,"zero":false}},
    "y":{"datum":6.2e-10,"type":"quantitative","scale":{"type":"log","domain":[1e-11,1e-5],"nice":false}},"text":{"field":"name"}}},
  {"data":{"values":[{}]},
   "mark":{"type":"rule","clip":false,"color":"black","strokeWidth":6,"strokeCap":"square"},
   "encoding":{"x":{"datum":-1.4726,"type":"quantitative","scale":{"domain":[-1,1],"nice":false,"zero":false}},"x2":{"datum":1.0346},
    "y":{"datum":3.05e-5,"type":"quantitative","scale":{"type":"log","domain":[1e-11,1e-5],"nice":false}}}}
 ],
 "resolve":{"scale":{"color":"independent","shape":"independent"}}
},
{
 "width":347,"height":140,
 "layer":[
  {"data":{"name":"iv"},"transform":[{"filter":"datum.p == 2 && datum.w == 800"}],
   "encoding":{
    "x":{"field":"v","type":"quantitative","scale":{"domain":[-1,1],"nice":false,"zero":false},"axis":{"values":[-1,-0.75,-0.5,-0.25,0,0.25,0.5,0.75,1],"labels":false,"title":null,"tickSize":-4}},
    "y":{"field":"c","type":"quantitative","scale":{"type":"log","domain":[1e-13,1e-5],"nice":false},"axis":{"values":[1e-13,1e-12,1e-11,1e-10,1e-9,1e-8,1e-7,1e-6,1e-5],"labelExpr":"(round(log(datum.value)/LN10)+13) % 3 == 0 ? '1E' + round(log(datum.value)/LN10) : ''","title":"Current (A)","tickSize":4,"labelPadding":2,"titlePadding":14}},
    "color":{"field":"l","type":"nominal","scale":{"domain":["0","50","250","1000"],"range":["#3B1C73","#6B24C6","#9050E6","#BB95F2"]}},
    "shape":{"field":"l","type":"nominal","scale":{"domain":["0","50","250","1000"],"range":["M0,-1L0.235,-0.324L0.951,-0.309L0.38,0.124L0.588,0.809L0,0.4L-0.588,0.809L-0.38,0.124L-0.951,-0.309L-0.235,-0.324Z","square","triangle-up","diamond"]}}
   },
   "layer":[
    {"mark":{"type":"point","filled":true,"size":55,"opacity":1,"clip":true},
     "encoding":{
      "color":{"field":"l","type":"nominal","scale":{"domain":["0","50","250","1000"],"range":["#3B1C73","#6B24C6","#9050E6","#BB95F2"]},
       "legend":{"orient":"none","legendX":246,"legendY":63,"title":null,"labelAlign":"center","labelOffset":30}}}},
    {"mark":{"type":"line","strokeDash":[0.5,4.5],"strokeCap":"round","strokeWidth":2.5,"clip":true}},
    {"mark":{"type":"point","filled":true,"size":55,"opacity":1,"clip":true}}
   ]
  },
  {"data":{"name":"iv"},"transform":[{"filter":"datum.p == 2 && datum.w == 1300"}],
   "encoding":{
    "x":{"field":"v","type":"quantitative","scale":{"domain":[-1,1],"nice":false,"zero":false}},
    "y":{"field":"c","type":"quantitative","scale":{"type":"log","domain":[1e-13,1e-5],"nice":false}},
    "color":{"field":"l","type":"nominal","scale":{"domain":["0","50","250","1000"],"range":["#1F4D7A","#1C8FE0","#4CB2F2","#A2D6FA"]}},
    "shape":{"field":"l","type":"nominal","scale":{"domain":["0","50","250","1000"],"range":["M0,-1L0.235,-0.324L0.951,-0.309L0.38,0.124L0.588,0.809L0,0.4L-0.588,0.809L-0.38,0.124L-0.951,-0.309L-0.235,-0.324Z","square","triangle-up","diamond"]}}
   },
   "layer":[
    {"mark":{"type":"point","filled":true,"size":55,"opacity":1,"clip":true},
     "encoding":{
      "color":{"field":"l","type":"nominal","scale":{"domain":["0","50","250","1000"],"range":["#1F4D7A","#1C8FE0","#4CB2F2","#A2D6FA"]},
       "legend":{"orient":"none","legendX":309,"legendY":63,"title":null,"labelExpr":"''","labelOffset":0}}}},
    {"mark":{"type":"line","strokeWidth":1.6,"clip":true}},
    {"mark":{"type":"point","filled":true,"size":55,"opacity":1,"clip":true}}
   ]
  },
  {"data":{"values":[{"name":"InP/InGaAs/InP"}]},
   "layer":[
    {"mark":{"type":"rect","fill":"white","stroke":"#111","strokeWidth":1.5},
     "encoding":{"x":{"datum":-0.971,"type":"quantitative","scale":{"domain":[-1,1],"nice":false,"zero":false}},"x2":{"datum":-0.331},
      "y":{"datum":2.7e-12,"type":"quantitative","scale":{"type":"log","domain":[1e-13,1e-5],"nice":false}},"y2":{"datum":3.2e-13}}},
    {"mark":{"type":"text","fontSize":14,"baseline":"middle","align":"center"},
     "encoding":{"x":{"datum":-0.651,"type":"quantitative","scale":{"domain":[-1,1],"nice":false,"zero":false}},
      "y":{"datum":9.3e-13,"type":"quantitative","scale":{"type":"log","domain":[1e-13,1e-5],"nice":false}},"text":{"field":"name"}}}
   ]
  },
  {"data":{"values":[{"name":"800 nm"}]},
   "mark":{"type":"text","fontSize":14,"angle":270,"baseline":"middle","align":"center"},
   "encoding":{"x":{"datum":0.349,"type":"quantitative","scale":{"domain":[-1,1],"nice":false,"zero":false}},
    "y":{"datum":2.5e-11,"type":"quantitative","scale":{"type":"log","domain":[1e-13,1e-5],"nice":false}},"text":{"field":"name"}}},
  {"data":{"values":[{"name":"1300 nm"}]},
   "mark":{"type":"text","fontSize":14,"angle":90,"baseline":"middle","align":"center"},
   "encoding":{"x":{"datum":0.931,"type":"quantitative","scale":{"domain":[-1,1],"nice":false,"zero":false}},
    "y":{"datum":2.5e-11,"type":"quantitative","scale":{"type":"log","domain":[1e-13,1e-5],"nice":false}},"text":{"field":"name"}}}
 ],
 "resolve":{"scale":{"color":"independent","shape":"independent"}}
},
{
 "width":347,"height":134,
 "layer":[
  {"data":{"name":"iv"},"transform":[{"filter":"datum.p == 3 && datum.w == 800"}],
   "encoding":{
    "x":{"field":"v","type":"quantitative","scale":{"domain":[-1,1],"nice":false,"zero":false},"axis":{"values":[-1,-0.75,-0.5,-0.25,0,0.25,0.5,0.75,1],"labelExpr":"abs(datum.value * 2 - round(datum.value * 2)) < 0.01 ? replace((datum.value < 0 ? '-' : '') + format(abs(datum.value), '.1f'), '.', ',') : ''","title":"Applied Bias (V)","tickSize":-4,"labelPadding":6,"labelFontSize":14,"titlePadding":10}},
    "y":{"field":"c","type":"quantitative","scale":{"type":"log","domain":[1e-18,1e-6],"nice":false},"axis":{"values":[1e-18,1e-17,1e-16,1e-15,1e-14,1e-13,1e-12,1e-11,1e-10,1e-9,1e-8,1e-7,1e-6],"labelExpr":"(round(log(datum.value)/LN10)+18) % 5 == 0 ? '1E' + round(log(datum.value)/LN10) : ''","title":"Current (A)","tickSize":4,"labelPadding":2,"titlePadding":14}},
    "color":{"field":"l","type":"nominal","scale":{"domain":["0","50","250","1000"],"range":["#6F8E2A","#86CF3C","#AEE27C","#D3EEA9"]}},
    "shape":{"field":"l","type":"nominal","scale":{"domain":["0","50","250","1000"],"range":["M0,-1L0.235,-0.324L0.951,-0.309L0.38,0.124L0.588,0.809L0,0.4L-0.588,0.809L-0.38,0.124L-0.951,-0.309L-0.235,-0.324Z","square","triangle-up","diamond"]}}
   },
   "layer":[
    {"mark":{"type":"point","filled":true,"size":55,"opacity":1,"clip":true},
     "encoding":{
      "color":{"field":"l","type":"nominal","scale":{"domain":["0","50","250","1000"],"range":["#6F8E2A","#86CF3C","#AEE27C","#D3EEA9"]},
       "legend":{"orient":"none","legendX":246,"legendY":61,"title":null,"labelAlign":"center","labelOffset":30}}}},
    {"mark":{"type":"line","strokeDash":[0.5,4.5],"strokeCap":"round","strokeWidth":2.5,"clip":true}},
    {"mark":{"type":"point","filled":true,"size":55,"opacity":1,"clip":true}}
   ]
  },
  {"data":{"name":"iv"},"transform":[{"filter":"datum.p == 3 && datum.w == 1300"}],
   "encoding":{
    "x":{"field":"v","type":"quantitative","scale":{"domain":[-1,1],"nice":false,"zero":false}},
    "y":{"field":"c","type":"quantitative","scale":{"type":"log","domain":[1e-18,1e-6],"nice":false}},
    "color":{"field":"l","type":"nominal","scale":{"domain":["0","50","250","1000"],"range":["#1E7A55","#22B789","#43E0B6","#8CF2DB"]}},
    "shape":{"field":"l","type":"nominal","scale":{"domain":["0","50","250","1000"],"range":["M0,-1L0.235,-0.324L0.951,-0.309L0.38,0.124L0.588,0.809L0,0.4L-0.588,0.809L-0.38,0.124L-0.951,-0.309L-0.235,-0.324Z","square","triangle-up","diamond"]}}
   },
   "layer":[
    {"mark":{"type":"point","filled":true,"size":55,"opacity":1,"clip":true},
     "encoding":{
      "color":{"field":"l","type":"nominal","scale":{"domain":["0","50","250","1000"],"range":["#1E7A55","#22B789","#43E0B6","#8CF2DB"]},
       "legend":{"orient":"none","legendX":308,"legendY":61,"title":null,"labelExpr":"''","labelOffset":0}}}},
    {"mark":{"type":"line","strokeWidth":1.6,"clip":true}},
    {"mark":{"type":"point","filled":true,"size":55,"opacity":1,"clip":true}}
   ]
  },
  {"data":{"values":[{"name":"InP"}]},
   "layer":[
    {"mark":{"type":"rect","fill":"white","stroke":"#111","strokeWidth":1.5},
     "encoding":{"x":{"datum":-0.971,"type":"quantitative","scale":{"domain":[-1,1],"nice":false,"zero":false}},"x2":{"datum":-0.798},
      "y":{"datum":1.15e-16,"type":"quantitative","scale":{"type":"log","domain":[1e-18,1e-6],"nice":false}},"y2":{"datum":1.26e-18}}},
    {"mark":{"type":"text","fontSize":14,"baseline":"middle","align":"center"},
     "encoding":{"x":{"datum":-0.885,"type":"quantitative","scale":{"domain":[-1,1],"nice":false,"zero":false}},
      "y":{"datum":1.2e-17,"type":"quantitative","scale":{"type":"log","domain":[1e-18,1e-6],"nice":false}},"text":{"field":"name"}}}
   ]
  },
  {"data":{"values":[{"name":"800 nm"}]},
   "mark":{"type":"text","fontSize":14,"angle":270,"baseline":"middle","align":"center"},
   "encoding":{"x":{"datum":0.343,"type":"quantitative","scale":{"domain":[-1,1],"nice":false,"zero":false}},
    "y":{"datum":2.5e-15,"type":"quantitative","scale":{"type":"log","domain":[1e-18,1e-6],"nice":false}},"text":{"field":"name"}}},
  {"data":{"values":[{"name":"1300 nm"}]},
   "mark":{"type":"text","fontSize":14,"angle":90,"baseline":"middle","align":"center"},
   "encoding":{"x":{"datum":0.925,"type":"quantitative","scale":{"domain":[-1,1],"nice":false,"zero":false}},
    "y":{"datum":2.5e-15,"type":"quantitative","scale":{"type":"log","domain":[1e-18,1e-6],"nice":false}},"text":{"field":"name"}}}
 ],
 "resolve":{"scale":{"color":"independent","shape":"independent"}}
}
],
"resolve":{"scale":{"color":"independent","shape":"independent"}}
}
